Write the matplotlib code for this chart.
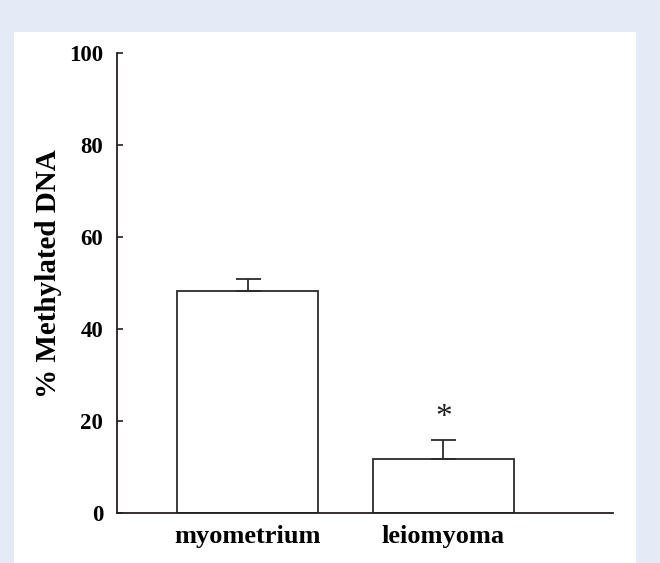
import matplotlib.pyplot as plt
from matplotlib.patches import Rectangle

# Données
categories = ["myometrium", "leiomyoma"]
methylated = [48.3, 11.8]
errors = [2.6, 4.1]
yticks = [0, 20, 40, 60, 80, 100]

W, H = 660, 563
plt.rcParams.update({
    "font.family": "Liberation Serif",
    "font.weight": "bold",
    "axes.labelweight": "bold",
    "text.color": "#231f20",
})

fig = plt.figure(figsize=(W / 100, H / 100), dpi=100)
fig.patch.set_facecolor("#e4eaf6")
# panneau blanc
fig.patches.append(Rectangle((14 / W, 0), (636 - 14) / W, (H - 32) / H,
                             transform=fig.transFigure, facecolor="white",
                             edgecolor="none", zorder=-1))

ax = fig.add_axes([117 / W, (H - 513) / H, (613 - 117) / W, (513 - 53) / H])
ax.set_facecolor("none")
ax.set_zorder(2)

x = range(len(categories))
ax.bar(x, methylated, width=0.72, color="white", edgecolor="#2b2b2b",
       linewidth=1.3, zorder=2)
ax.errorbar(x, methylated, yerr=[[0, 0], errors], fmt="none",
            ecolor="#2b2b2b", elinewidth=1.3, capsize=9, capthick=1.3, zorder=3)
ax.text(1, methylated[1] + errors[1] + 4.7, "*", ha="center", va="center",
        fontsize=24, fontweight="normal")

ax.set_xlim(-0.666, 1.865)
ax.set_ylim(0, 100)
ax.set_yticks(yticks)
ax.set_xticks(list(x))
ax.set_xticklabels(categories, fontsize=19)
ax.tick_params(axis="x", length=0, pad=8.5)
ax.tick_params(axis="y", direction="in", length=4, width=1.2,
               labelsize=16.5, pad=10, color="#231f20")
for side in ("top", "right"):
    ax.spines[side].set_visible(False)
for side in ("left", "bottom"):
    ax.spines[side].set_linewidth(1.3)
    ax.spines[side].set_color("#231f20")

ax.set_ylabel("% Methylated DNA", fontsize=21, va="center")
ax.yaxis.set_label_coords(-0.138, 0.52)

fig.savefig("out.png", dpi=100, facecolor=fig.get_facecolor())
